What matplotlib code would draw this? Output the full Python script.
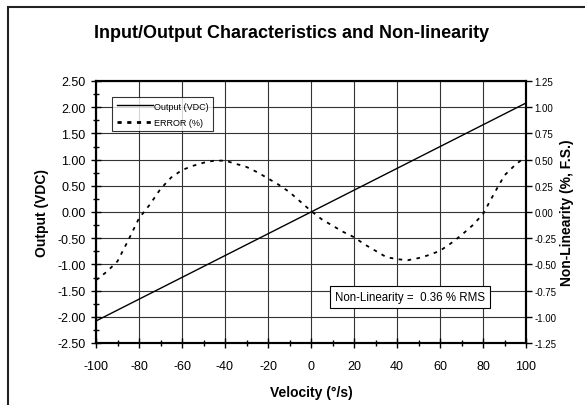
import matplotlib.pyplot as plt
import numpy as np
from matplotlib.lines import Line2D
from matplotlib.patches import Rectangle
from matplotlib.ticker import MultipleLocator

plt.rcParams['font.family'] = ['Liberation Sans', 'DejaVu Sans']
plt.rcParams['axes.unicode_minus'] = False

# Data
velocity = [-100, 100]
output_vdc = [-2.08, 2.08]

err_velocity = [-100, -95, -90, -85, -80, -75, -70, -65, -60, -55, -50, -45, -40,
                -35, -30, -25, -20, -15, -10, -5, 0, 5, 10, 15, 20, 25, 30, 35,
                40, 45, 50, 55, 60, 65, 70, 75, 80, 85, 90, 95, 100]
err_pct = [-0.65, -0.57, -0.47, -0.27, -0.06, 0.07, 0.22, 0.33, 0.40, 0.44, 0.47,
           0.49, 0.49, 0.46, 0.43, 0.38, 0.32, 0.26, 0.19, 0.10, 0.01, -0.07,
           -0.13, -0.19, -0.24, -0.31, -0.37, -0.43, -0.45, -0.46, -0.44, -0.41,
           -0.37, -0.30, -0.22, -0.13, -0.02, 0.17, 0.35, 0.45, 0.53]

fig = plt.figure(figsize=(5.85, 4.06), dpi=100)
fig.patches.append(Rectangle((8 / 585, -0.1), 1.2, 1 - 8 / 406 + 0.1,
                             transform=fig.transFigure, fill=False,
                             edgecolor='#222222', linewidth=1.5))

ax = fig.add_axes([96 / 585, 1 - 344 / 406, 430 / 585, 262 / 406])
ax2 = ax.twinx()

ax.plot(velocity, output_vdc, color='black', linewidth=1.0, zorder=3)
ax2.plot(err_velocity, err_pct, color='black', linewidth=1.3,
         linestyle=(0, (2, 3)), zorder=3)

ax.set_xlim(-100, 100)
ax.set_ylim(-2.5, 2.5)
ax2.set_ylim(-1.25, 1.25)

ax.xaxis.set_major_locator(MultipleLocator(20))
ax.xaxis.set_minor_locator(MultipleLocator(10))
ax.yaxis.set_major_locator(MultipleLocator(0.5))
ax.yaxis.set_minor_locator(MultipleLocator(0.25))
ax2.yaxis.set_major_locator(MultipleLocator(0.25))

ax.set_yticks(np.arange(-2.5, 2.51, 0.5))
ax.set_yticklabels([f'{v:.2f}' for v in np.arange(-2.5, 2.51, 0.5)])
ax2.set_yticks(np.arange(-1.25, 1.26, 0.25))
ax2.set_yticklabels([f'{v:.2f}' for v in np.arange(-1.25, 1.26, 0.25)])

ax.grid(True, which='major', color='#333333', linewidth=0.8)
ax.set_axisbelow(True)

ax.tick_params(axis='both', which='major', direction='inout', length=7,
               width=1, labelsize=9)
ax.tick_params(axis='x', which='major', pad=9)
ax.tick_params(axis='y', which='major', pad=4)
ax.tick_params(axis='both', which='minor', direction='inout', length=5, width=1)
ax2.tick_params(axis='y', which='major', direction='out', length=4,
                width=1, labelsize=7, pad=2)

for a in (ax, ax2):
    for s in a.spines.values():
        s.set_linewidth(1.5)

ax.set_xlabel('Velocity (°/s)', fontsize=10, fontweight='bold', labelpad=9)
ax.set_ylabel('Output (VDC)', fontsize=10, fontweight='bold', labelpad=6)
ax2.set_ylabel('Non-Linearity (%, F.S.)', fontsize=10, fontweight='bold',
               labelpad=3)

fig.text(292 / 585, 1 - 33 / 406, 'Input/Output Characteristics and Non-linearity',
         ha='center', va='center', fontsize=13, fontweight='bold')

handles = [Line2D([], [], color='black', linewidth=1.0),
           Line2D([], [], color='black', linewidth=2.0, linestyle=(0, (1.5, 2)))]
leg = ax.legend(handles, ['Output (VDC)', 'ERROR (%)'], loc='upper left',
                bbox_to_anchor=(16 / 430, 1 - 16 / 262), fontsize=6.5,
                frameon=True, fancybox=False, edgecolor='black',
                handlelength=4, handletextpad=0.1, borderpad=0.5,
                labelspacing=0.8, borderaxespad=0)
leg.get_frame().set_linewidth(0.8)
leg.set_zorder(5)

ax2.text(46, -0.81, 'Non-Linearity =  0.36 % RMS',
         ha='center', va='center', fontsize=8.3, zorder=6,
         bbox=dict(boxstyle='square,pad=0.45', facecolor='white',
                   edgecolor='black', linewidth=0.8))

fig.savefig('out.png', dpi=100)
